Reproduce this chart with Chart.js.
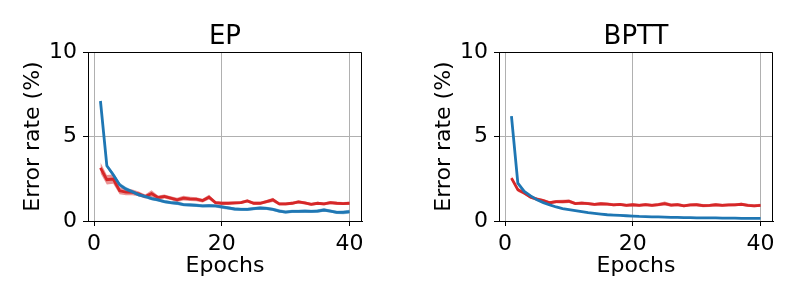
<!DOCTYPE html>
<html>
<head>
<meta charset="utf-8">
<script src="https://cdn.jsdelivr.net/npm/chart.js@4"></script>
<style>
  html, body { margin: 0; padding: 0; background: #fff; overflow: hidden; }
  #wrap { position: relative; width: 800px; height: 300px; }
  canvas { position: absolute; top: 0; }
</style>
</head>
<body>
<div id="wrap">
  <canvas id="ep" width="400" height="300" style="left:0"></canvas>
  <canvas id="bptt" width="389" height="300" style="left:411px"></canvas>
</div>
<script>
// data
const epochs = [1, 2, 3, 4, 5, 6, 7, 8, 9, 10, 11, 12, 13, 14, 15, 16, 17, 18, 19, 20,
                21, 22, 23, 24, 25, 26, 27, 28, 29, 30, 31, 32, 33, 34, 35, 36, 37, 38, 39, 40];
const xTicks = [0, 20, 40];
const yTicks = [0, 5, 10];

// EP panel
const epBlue = [7.1, 3.27, 2.74, 2.14, 1.89, 1.73, 1.55, 1.45, 1.33, 1.25, 1.15, 1.09, 1.05, 0.97, 0.95, 0.93, 0.89, 0.91, 0.89, 0.83,
                0.77, 0.71, 0.69, 0.69, 0.73, 0.77, 0.75, 0.69, 0.59, 0.53, 0.57, 0.57, 0.59, 0.57, 0.59, 0.65, 0.59, 0.51, 0.51, 0.55];
const epBlueSd = [0.06, 0.1, 0.14, 0.12, 0.12, 0.1, 0.1, 0.1, 0.1, 0.1, 0.1, 0.1, 0.1, 0.09, 0.1, 0.1, 0.09, 0.1, 0.09, 0.1,
                  0.1, 0.09, 0.09, 0.1, 0.1, 0.09, 0.1, 0.1, 0.1, 0.09, 0.1, 0.1, 0.09, 0.1, 0.1, 0.1, 0.09, 0.1, 0.11, 0.12];
const epRed = [3.14, 2.44, 2.48, 1.79, 1.71, 1.69, 1.61, 1.45, 1.62, 1.39, 1.45, 1.35, 1.25, 1.35, 1.31, 1.29, 1.21, 1.41, 1.09, 1.05,
               1.05, 1.07, 1.09, 1.19, 1.05, 1.05, 1.15, 1.25, 1.01, 1.01, 1.05, 1.13, 1.07, 0.99, 1.05, 1.01, 1.09, 1.05, 1.03, 1.05];
const epRedSd = [0.32, 0.28, 0.27, 0.2, 0.18, 0.17, 0.14, 0.12, 0.2, 0.12, 0.12, 0.11, 0.12, 0.14, 0.12, 0.12, 0.11, 0.14, 0.1, 0.09,
                 0.09, 0.09, 0.09, 0.1, 0.09, 0.09, 0.1, 0.12, 0.09, 0.09, 0.09, 0.1, 0.09, 0.09, 0.09, 0.09, 0.1, 0.09, 0.09, 0.09];

// BPTT panel
const bpttBlue = [6.2, 2.24, 1.75, 1.49, 1.25, 1.09, 0.95, 0.83, 0.73, 0.67, 0.61, 0.55, 0.49, 0.45, 0.41, 0.37, 0.35, 0.33, 0.31, 0.29,
                  0.27, 0.26, 0.25, 0.24, 0.23, 0.22, 0.21, 0.2, 0.2, 0.19, 0.19, 0.18, 0.18, 0.17, 0.17, 0.17, 0.16, 0.16, 0.16, 0.15];
const bpttBlueSd = [0.1, 0.06, 0.05, 0.04, 0.04, 0.04, 0.03, 0.03, 0.03, 0.03, 0.03, 0.03, 0.03, 0.03, 0.03, 0.03, 0.03, 0.03, 0.03, 0.03,
                    0.03, 0.03, 0.03, 0.03, 0.03, 0.03, 0.03, 0.03, 0.03, 0.03, 0.03, 0.03, 0.03, 0.03, 0.03, 0.03, 0.03, 0.03, 0.03, 0.03];
const bpttRed = [2.54, 1.85, 1.65, 1.41, 1.29, 1.21, 1.08, 1.15, 1.15, 1.17, 1.03, 1.06, 1.03, 0.98, 1.02, 1.0, 0.96, 0.98, 0.93, 0.96,
                 0.93, 0.97, 0.93, 0.97, 1.03, 0.94, 0.97, 0.9, 0.95, 0.96, 0.91, 0.92, 0.96, 0.93, 0.95, 0.96, 0.99, 0.93, 0.9, 0.93];
const bpttRedSd = [0.12, 0.12, 0.1, 0.1, 0.1, 0.09, 0.09, 0.1, 0.11, 0.1, 0.09, 0.09, 0.09, 0.09, 0.09, 0.09, 0.09, 0.09, 0.09, 0.09,
                   0.09, 0.09, 0.09, 0.09, 0.12, 0.09, 0.09, 0.09, 0.09, 0.09, 0.09, 0.09, 0.09, 0.09, 0.09, 0.09, 0.09, 0.09, 0.09, 0.09];

const FONT = "'DejaVu Sans', sans-serif";
const BLUE = '#1f77b4', RED = '#d62728';

const pts = (ys) => ys.map((v, i) => ({ x: epochs[i], y: v }));
const shift = (ys, sd, k) => ys.map((v, i) => ({ x: epochs[i], y: v + k * sd[i] }));

// top + right spines (matplotlib box)
const frame = {
  id: 'frame',
  afterDraw(chart) {
    const { ctx, chartArea: a } = chart;
    ctx.save();
    ctx.strokeStyle = '#000';
    ctx.lineWidth = 1;
    ctx.beginPath();
    ctx.moveTo(Math.round(a.left) + 0.5, Math.round(a.top) + 0.5);
    ctx.lineTo(Math.round(a.right) - 0.5, Math.round(a.top) + 0.5);
    ctx.lineTo(Math.round(a.right) - 0.5, Math.round(a.bottom) + 0.5);
    ctx.stroke();
    ctx.restore();
  }
};

function series(mean, sd, color, fillColor) {
  return [
    { data: shift(mean, sd, -1), borderWidth: 0, pointRadius: 0, fill: false },
    { data: shift(mean, sd, 1), borderWidth: 0, pointRadius: 0, fill: '-1', backgroundColor: fillColor },
    { data: pts(mean), borderColor: color, borderWidth: 2.8, pointRadius: 0, fill: false }
  ];
}

function panel(id, title, blue, blueSd, red, redSd, padRight) {
  new Chart(document.getElementById(id), {
    type: 'line',
    data: {
      datasets: [
        ...series(blue, blueSd, BLUE, 'rgba(31,119,180,0.5)'),
        ...series(red, redSd, RED, 'rgba(214,39,40,0.5)')
      ]
    },
    options: {
      responsive: false,
      animation: false,
      layout: { padding: { left: 0, right: padRight, top: 0, bottom: 0 } },
      plugins: {
        legend: { display: false },
        tooltip: { enabled: false },
        title: {
          display: true, text: title, fullSize: false, color: '#000',
          font: { family: FONT, size: 26, weight: 'normal' },
          padding: { top: 21.5, bottom: -0.7 }
        }
      },
      scales: {
        x: {
          type: 'linear', min: -0.95, max: 41.95,
          afterBuildTicks: (s) => { s.ticks = xTicks.map(v => ({ value: v })); },
          afterFit: (s) => { s.height = 79; },
          grid: { color: '#b0b0b0', lineWidth: 1, tickColor: '#000', tickLength: 5 },
          border: { color: '#000', width: 1 },
          ticks: { color: '#000', font: { family: FONT, size: 22 }, padding: 5, maxRotation: 0 },
          title: { display: true, text: 'Epochs', color: '#000', font: { family: FONT, size: 22 }, padding: { top: 0, bottom: 21 } }
        },
        y: {
          min: 0, max: 10,
          afterBuildTicks: (s) => { s.ticks = yTicks.map(v => ({ value: v })); },
          afterFit: (s) => { s.width = 88; },
          grid: { color: '#b0b0b0', lineWidth: 1, tickColor: '#000', tickLength: 5 },
          border: { color: '#000', width: 1 },
          ticks: { color: '#000', font: { family: FONT, size: 22 }, padding: 6 },
          title: { display: true, text: 'Error rate (%)', color: '#000', font: { family: FONT, size: 22 }, padding: { top: 20, bottom: 0 } }
        }
      }
    },
    plugins: [frame]
  });
}

panel('ep', 'EP', epBlue, epBlueSd, epRed, epRedSd, 38);
panel('bptt', 'BPTT', bpttBlue, bpttBlueSd, bpttRed, bpttRedSd, 27);
</script>
</body>
</html>
